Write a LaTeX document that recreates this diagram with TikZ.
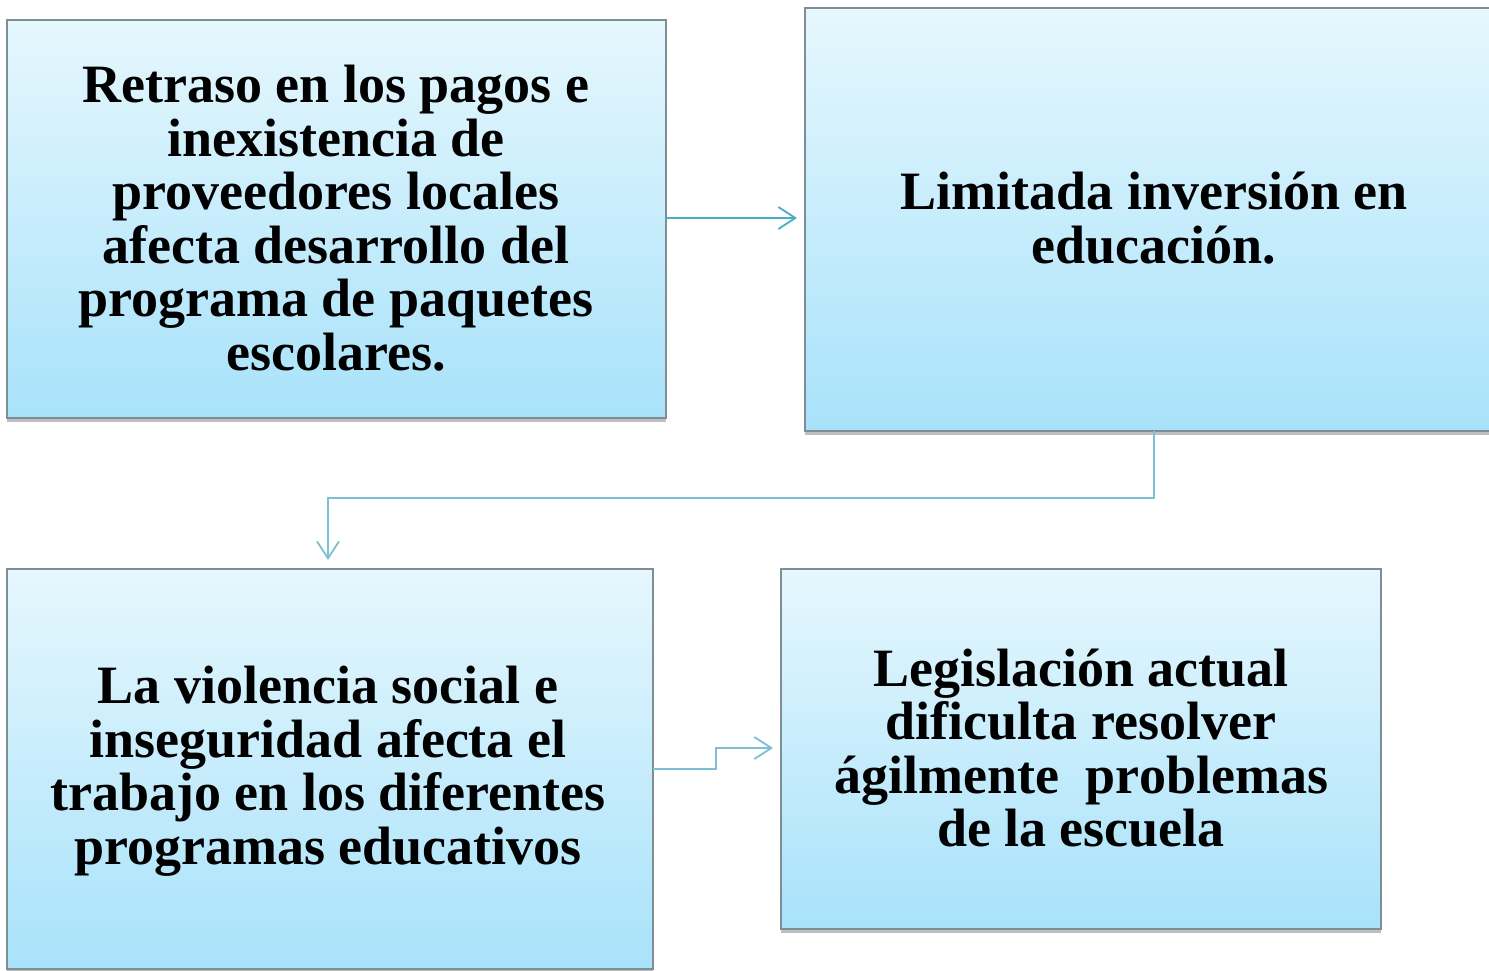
\documentclass[tikz,border=0pt]{standalone}
\usepackage{fontspec}
\setmainfont{Liberation Serif}
\usetikzlibrary{arrows.meta,shadows,calc}
\definecolor{boxtop}{HTML}{E6F7FD}
\definecolor{boxbot}{HTML}{A8E2FA}
\definecolor{boxline}{HTML}{7E8E94}
\definecolor{arrA}{HTML}{4BACC6}
\definecolor{arrB}{HTML}{7DC0D4}
\begin{document}
\begin{tikzpicture}[x=1pt,y=-1pt,
  boxstyle/.style={draw=boxline, line width=1.2pt, top color=boxtop, bottom color=boxbot,
     drop shadow={shadow xshift=0pt, shadow yshift=-4pt, opacity=0.25, fill=black}},
  lbl/.style={align=center, font=\fontsize{54}{53.5}\selectfont\bfseries, inner sep=0pt},
  conn/.style={line width=1.8pt, -{Straight Barb[length=17pt, width=22pt, line width=1.8pt]}}]
\useasboundingbox (0,0) rectangle (1489,970);
\clip (0,0) rectangle (1489,970);
\fill[white] (0,0) rectangle (1489,970);
% boxes
\path[boxstyle] (7,20) rectangle (666,418);
\path[boxstyle] (805,8) rectangle (1503,431);
\path[boxstyle] (7,569) rectangle (653,969);
\path[boxstyle] (781,569) rectangle (1381,929);
\coordinate (Ar) at (666,218);
\coordinate (Bl) at (797,218);
\coordinate (Bb) at (1154,431);
\coordinate (Ct) at (328,560);
\coordinate (Cr) at (653,769);
\coordinate (Dl) at (773,748);
\node[lbl] (ta) at (336,218) {Retraso en los pagos e\\inexistencia de\\proveedores locales\\afecta desarrollo del\\programa de paquetes\\escolares.};
\node[lbl] (tb) at (1154,218) {Limitada inversión en\\educación.};
\node[lbl] (tc) at (328,771) {La violencia social e\\inseguridad afecta el\\trabajo en los diferentes\\programas educativos};
\node[lbl] (td) at (1081,748) {Legislación actual\\dificulta resolver\\ágilmente\ \ problemas\\de la escuela};
% connectors
\draw[conn, arrA] (Ar) -- (Bl);
\draw[conn, arrB] (Bb) -- (1154,498) -- (328,498) -- (Ct);
\draw[conn, arrB] (Cr) -- (716,769) -- (716,748) -- (Dl);
\end{tikzpicture}
\end{document}
